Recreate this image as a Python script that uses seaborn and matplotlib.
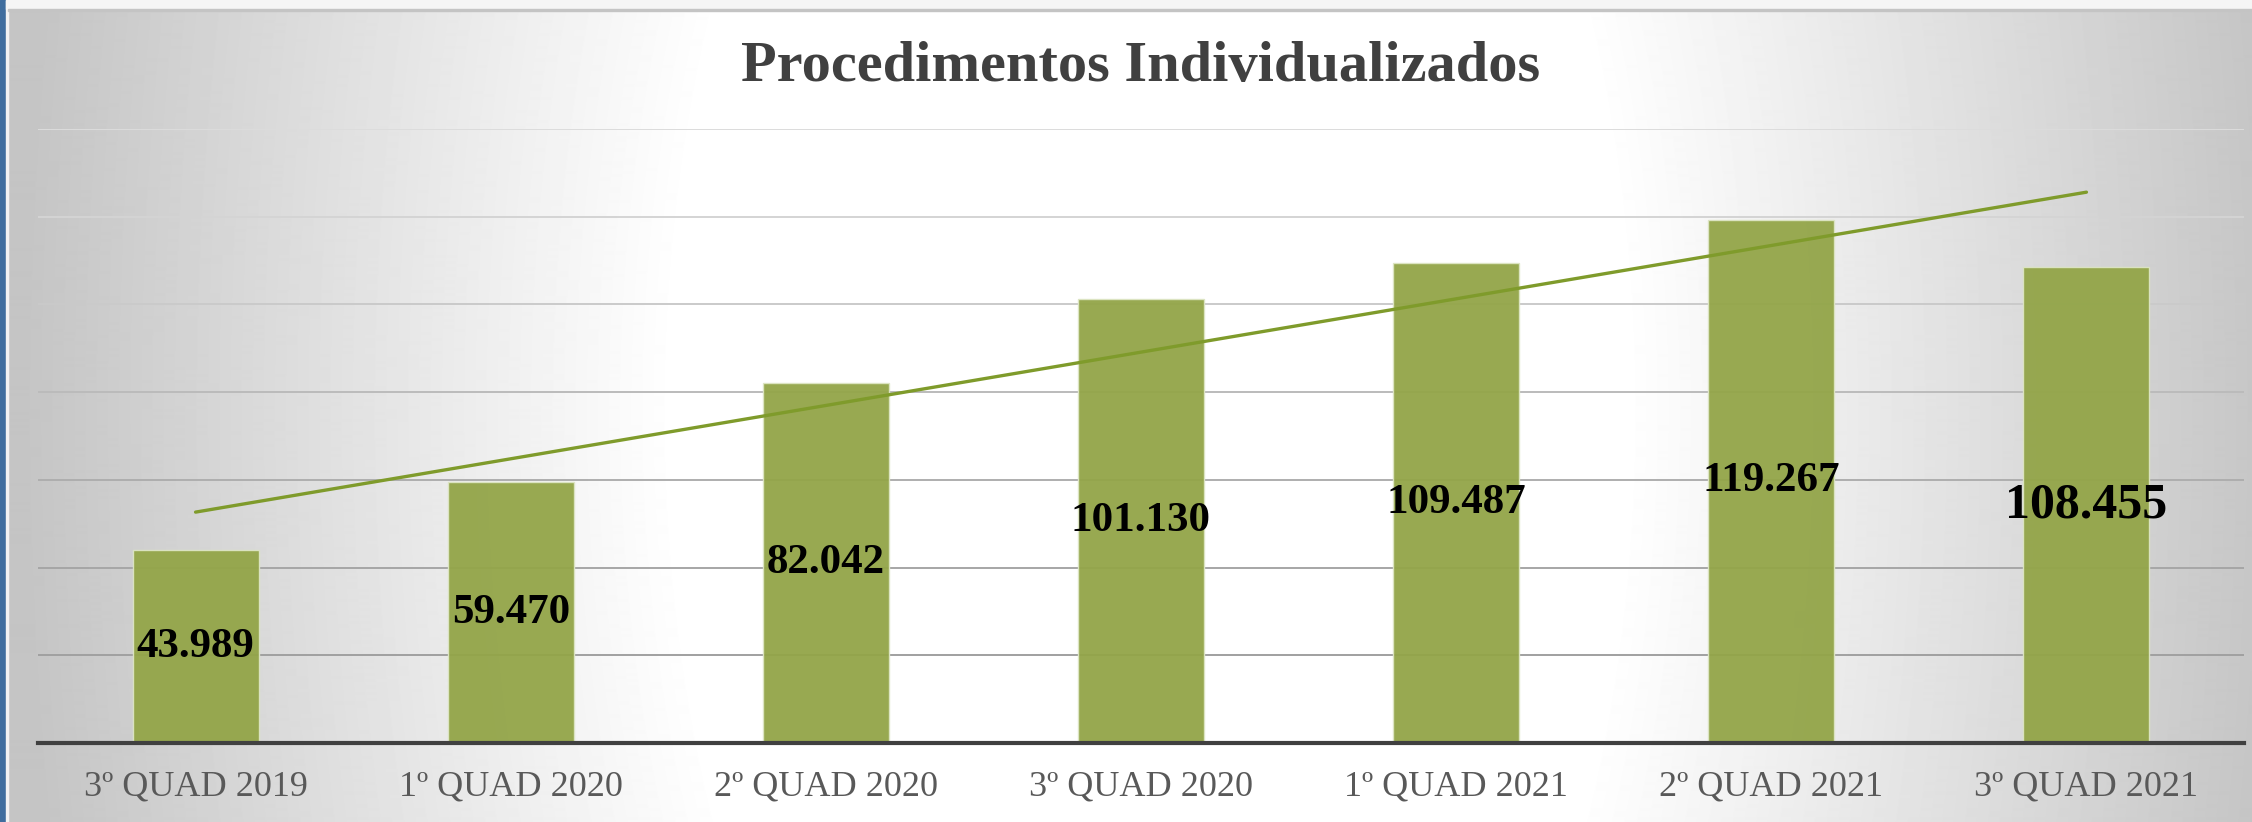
import numpy as np
import matplotlib
matplotlib.use("Agg")
import matplotlib.pyplot as plt
import seaborn as sns
from matplotlib.patches import Rectangle

# --- DATA ---
categories = ["3º QUAD 2019", "1º QUAD 2020", "2º QUAD 2020", "3º QUAD 2020",
              "1º QUAD 2021", "2º QUAD 2021", "3º QUAD 2021"]
values = [43989, 59470, 82042, 101130, 109487, 119267, 108455]
title = "Procedimentos Individualizados"

# --- STYLE ---
sns.set_style("white")
plt.rcParams['font.family'] = ['Liberation Serif', 'DejaVu Serif']

W, H, dpi = 2252, 822, 100
bar_color = "#93A548"
trend_color = "#7F9B2B"

fig = plt.figure(figsize=(W / dpi, H / dpi), dpi=dpi)

# background gradient (white vertical band in the middle, gray sides)
bg = fig.add_axes([0, 0, 1, 1], zorder=-10)
px, py = np.meshgrid(np.arange(W), np.arange(H))
r = np.sqrt(((px - 1150) / 1130.0) ** 2 + ((py - 411) / 2200.0) ** 2)
shade = 1 - 0.23 * np.clip((r - 0.42) / 0.58, 0, 1)
bg.imshow(shade, cmap="gray", vmin=0, vmax=1, aspect="auto", interpolation="bilinear")
bg.set_axis_off()

# frame details: blue strip on the left, light strip at the top
fig.patches.append(Rectangle((0, 0), 6 / W, 1, transform=fig.transFigure,
                             color="#3F6D9E", zorder=5))
fig.patches.append(Rectangle((6 / W, 0), 2 / W, 1, transform=fig.transFigure,
                             color="#F2F2F2", zorder=5))
fig.patches.append(Rectangle((6 / W, 1 - 9 / H), 1, 9 / H, transform=fig.transFigure,
                             color="#F5F5F5", zorder=5))
fig.patches.append(Rectangle((8 / W, 1 - 11 / H), 1, 2 / H, transform=fig.transFigure,
                             color="#C4C4C4", zorder=5))

# --- MAIN AXES ---
ax = fig.add_axes([38 / W, (H - 743) / H, (2244 - 38) / W, (743 - 129) / H])
ax.set_facecolor("none")

sns.barplot(x=categories, y=values, color=bar_color, saturation=1, width=0.4,
            alpha=0.95, edgecolor="#DDE5C4", linewidth=1.0, ax=ax, zorder=2)

# linear trendline
xs = np.arange(len(values))
coef = np.polyfit(xs, values, 1)
ax.plot([xs[0], xs[-1]], np.polyval(coef, [xs[0], xs[-1]]), color=trend_color,
        lw=2.4, solid_capstyle="round", zorder=3)

# value labels
labels = [f"{v:,}".replace(",", ".") for v in values]
texts = ax.bar_label(ax.containers[0], labels=labels, label_type="center",
                     fontsize=31, fontweight="bold", color="black", zorder=4)
texts[-1].set_fontsize(36)

ax.set_xlim(-0.5, len(values) - 0.5)
ax.set_ylim(0, 140000)
ax.set_yticks(np.arange(0, 140001, 20000))
ax.set_yticklabels([])
ax.tick_params(axis="y", length=0)
ax.tick_params(axis="x", length=0, pad=20, labelsize=26, labelcolor="#595959")
ax.set_xlabel("")
ax.set_ylabel("")

ax.yaxis.grid(True, linewidth=1.4)
ax.set_axisbelow(True)
grid_cols = ["#A0A0A0", "#A0A0A0", "#A6A6A6", "#AEAEAE", "#BBBBBB", "#CACACA", "#D4D4D4", "#DCDCDC"]
for gl, c in zip(ax.yaxis.get_gridlines(), grid_cols):
    gl.set_color(c)

for s in ["top", "left", "right"]:
    ax.spines[s].set_visible(False)
ax.spines["bottom"].set_color("#404040")
ax.spines["bottom"].set_linewidth(3)
ax.spines["bottom"].set_zorder(5)

fig.text(1141 / W, 1 - 81 / H, title, ha="center", va="baseline",
         fontsize=42, fontweight="bold", color="#404040")

fig.savefig("out.png", dpi=dpi)
